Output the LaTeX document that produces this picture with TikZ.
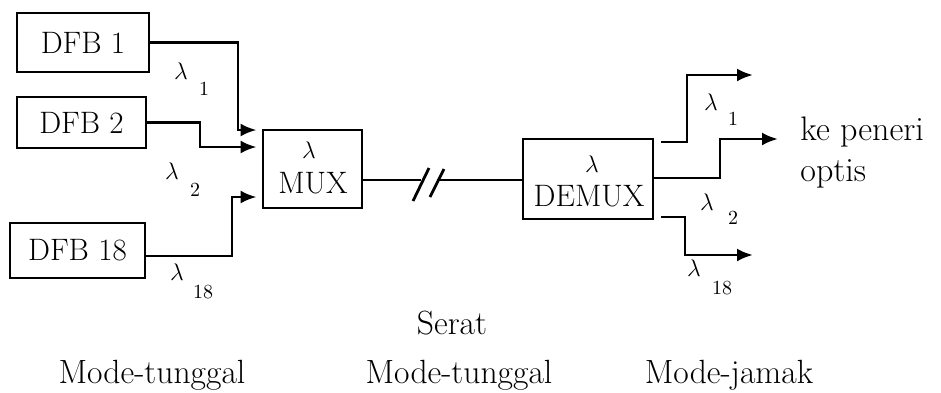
\documentclass[tikz,border=0pt]{standalone}
\usetikzlibrary{arrows.meta}
\begin{document}
\begin{tikzpicture}[x=0.5pt,y=-0.5pt,
  box/.style={draw,line width=1.4pt,inner sep=0pt,font=\fontsize{15.5}{16}\selectfont},
  btxt/.style={inner sep=0pt,font=\fontsize{15.5}{16}\selectfont},
  wire/.style={line width=1.4pt},
  arr/.style={wire,-{Latex[length=8pt,width=6.5pt]}},
  lam/.style={inner sep=0pt,font=\fontsize{13}{13}\selectfont},
  sub/.style={inner sep=0pt,font=\fontsize{10}{10}\selectfont},
  lbl/.style={inner sep=0pt,font=\fontsize{16.8}{17}\selectfont}]
\useasboundingbox (0,0) rectangle (941,392);
% boxes
\node[box,minimum width=66pt,minimum height=29.5pt] (dfb1) at (83,42.5) {DFB 1};
\node[box,minimum width=64.5pt,minimum height=25.5pt] (dfb2) at (81.5,122.5) {DFB 2};
\node[box,minimum width=67.5pt,minimum height=27.5pt] (dfb18) at (77.5,250.5) {DFB 18};
\node[box,minimum width=49.5pt,minimum height=39pt] (mux) at (312.5,169) {};
\node[lam] (muxl) at (309,150) {$\lambda$};
\node[btxt] (muxt) at (313,183) {MUX};
\node[box,minimum width=65pt,minimum height=40pt] (demux) at (588,179) {};
\node[lam] (demuxl) at (592,164) {$\lambda$};
\node[btxt] (demuxt) at (589,196) {DEMUX};
% input wires
\coordinate (c1) at (238,130);
\coordinate (c2) at (200,147);
\coordinate (c18) at (232,197);
\draw[arr,shorten >=2.5pt] (dfb1.east) -| (c1) -- (c1 -| mux.west);
\draw[arr,shorten >=2.5pt] (dfb2.east) -| (c2) -- (c2 -| mux.west);
\draw[arr,shorten >=2.5pt] ([yshift=-2.75pt]dfb18.east) -| (c18) -- (c18 -| mux.west);
% fibre
\coordinate (f1) at (421,180);
\coordinate (f2) at (437,180);
\draw[wire] (mux.east |- f1) -- (f1);
\draw[wire] (f2) -- (demux.west |- f2);
\draw[wire] (413,201) -- (429,168);
\draw[wire] (430,197) -- (444,169);
% outputs
\coordinate (o1) at (687,75);
\coordinate (t1) at (753,75);
\coordinate (o2) at (720,139);
\coordinate (t2) at (778,139);
\coordinate (o18) at (685,255);
\coordinate (t18) at (753,255);
\draw[arr] ([xshift=3.5pt,yshift=18.5pt]demux.east) -| (o1) -- (t1);
\draw[arr] ([yshift=0.5pt]demux.east) -| (o2) -- (t2);
\draw[arr] ([xshift=3.5pt,yshift=-19pt]demux.east) -| (o18) -- (t18);
% lambda labels
\node[lam] (li1) at (181,71) {$\lambda$};
\node[sub] (si1) at (204,89) {1};
\node[lam] (li2) at (172,171) {$\lambda$};
\node[sub] (si2) at (195,190) {2};
\node[lam] (li18) at (177,272) {$\lambda$};
\node[sub] (si18) at (203,292) {18};
\node[lam] (lo1) at (711,102) {$\lambda$};
\node[sub] (so1) at (733,119) {1};
\node[lam] (lo2) at (707,202) {$\lambda$};
\node[sub] (so2) at (733,218) {2};
\node[lam] (lo18) at (694,268) {$\lambda$};
\node[sub] (so18) at (722,288) {18};
% texts
\node[lbl,anchor=west,align=left,font=\fontsize{17}{20.5}\selectfont] (ke) at (800,153) {ke peneri\\optis};
\node[lbl] (serat) at (452,323) {Serat};
\node[lbl] (m1) at (152,375) {Mode-tunggal};
\node[lbl] (m2) at (459,375) {Mode-tunggal};
\node[lbl] (m3) at (729,375) {Mode-jamak};
\end{tikzpicture}
\end{document}
